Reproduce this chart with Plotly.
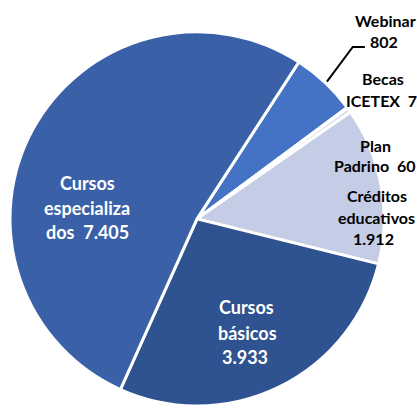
"""Pie chart: participantes por tipo de programa."""

import plotly.graph_objects as go

# Data
LABELS = ["Webinar", "Becas ICETEX", "Plan Padrino", "Créditos educativos",
          "Cursos básicos", "Cursos especializados"]
VALUES = [802, 7, 60, 1912, 3933, 7405]
DISPLAY = ["802", "7", "60", "1.912", "3.933", "7.405"]

# Slice colours
COLORS = ["#4472C4", "#E6EAF5", "#D4DAEE", "#C5CCE5", "#2F5290", "#3A61A8"]

# Label lines (wrapped as in the original)
LABEL_LINES = [
    ["Webinar", DISPLAY[0]],
    ["Becas", f"ICETEX  {DISPLAY[1]}"],
    ["Plan", f"Padrino  {DISPLAY[2]}"],
    ["Créditos", "educativos", DISPLAY[3]],
    ["Cursos", "básicos", DISPLAY[4]],
    ["Cursos", "especializa", f"dos  {DISPLAY[5]}"],
]
# centre of each line, in pixels from top-left
LABEL_XY = [
    [(385, 20), (384, 42)],
    [(383, 79), (381, 100)],
    [(375, 145), (374, 165)],
    [(377, 195), (376, 217), (373, 238)],
    [(246, 307), (247, 333), (245, 357)],
    [(87, 183), (87, 208), (87, 232)],
]
LABEL_COLOR = ["black", "black", "black", "black", "white", "white"]
LABEL_SIZE = [16, 16, 16, 16, 18, 18]

W, H = 417, 408
FONT = "Lato, 'Open Sans', sans-serif"

fig = go.Figure(
    go.Pie(
        labels=LABELS,
        values=VALUES,
        sort=False,
        direction="clockwise",
        rotation=33,
        marker=dict(colors=COLORS, line=dict(color="white", width=3)),
        textinfo="none",
        hoverinfo="label+value",
        domain=dict(x=[0.024, 0.921], y=[0.005, 0.922]),
        showlegend=False,
    )
)

for lines, xys, col, size in zip(LABEL_LINES, LABEL_XY, LABEL_COLOR, LABEL_SIZE):
    for txt, (px, py) in zip(lines, xys):
        fig.add_annotation(
            x=px / W, y=1 - py / H, xref="paper", yref="paper",
            text=f"<b>{txt}</b>", showarrow=False,
            font=dict(family=FONT, size=size, color=col),
            xanchor="center", yanchor="middle",
        )

# Leader line for Webinar
fig.add_shape(
    type="path", xref="paper", yref="paper",
    path="M 0.784 0.80 L 0.846 0.885 L 0.875 0.885",
    line=dict(color="black", width=2),
)

fig.update_layout(
    width=W, height=H,
    margin=dict(l=0, r=0, t=0, b=0),
    paper_bgcolor="white",
    plot_bgcolor="white",
)

fig.write_html(
    "out.html",
    config={"displayModeBar": False},
    post_script="document.body.style.margin='0';",
)
